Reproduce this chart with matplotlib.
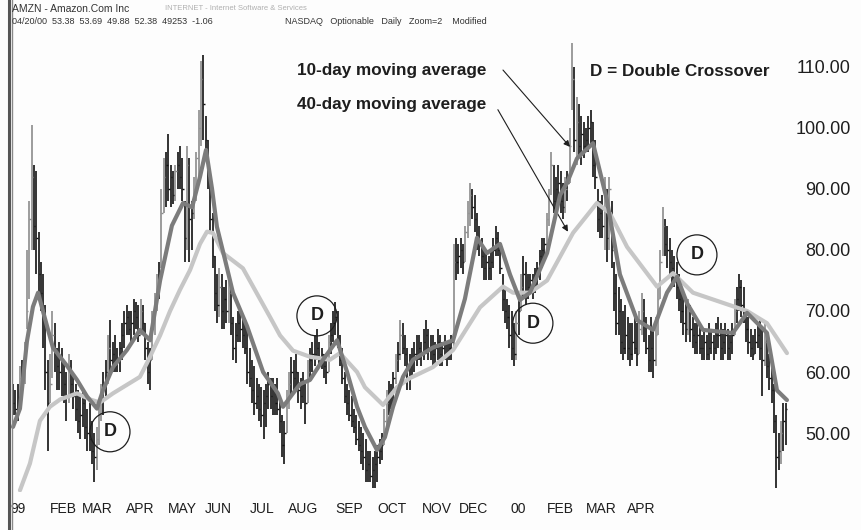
import matplotlib
matplotlib.use("Agg")
import matplotlib.pyplot as plt
from matplotlib import font_manager
from matplotlib.lines import Line2D

# daily bars, 29 Dec 1998 .. 20 Apr 2000 (bar index = trading day)
highs = [
    58, 57, 58, 61, 62, 65, 80, 88, 100.5, 94, 93, 83, 78, 76, 71, 62, 63, 70, 68, 64,
    65, 64, 62, 60, 63, 62, 60, 58, 57, 56, 57, 56, 54, 55, 52, 50, 51, 55, 58, 60,
    62, 66, 68.5, 65, 66, 64, 65, 68, 70, 71, 70, 70, 72, 71.5, 71, 72, 71, 68, 65, 64,
    70, 73, 76, 78, 90, 95, 96, 99, 94, 93, 94, 96, 97, 95, 88, 97, 95, 88, 92, 96,
    103, 111, 112, 102, 98, 92, 86, 79, 76, 77, 76, 74, 75, 76, 74, 69, 68, 70, 70, 69,
    68, 67, 64, 62, 61, 59, 58, 57.5, 57, 58, 60, 59, 59, 58, 59, 56, 53, 52, 57, 60,
    62.5, 62, 63, 60, 59, 60, 58, 62, 64, 65, 66, 67, 65, 64, 63, 63, 66, 68, 70, 71.5,
    70, 66, 64, 60, 58, 57, 56, 54, 53, 52, 51, 50, 49, 47, 47, 46, 47, 48, 49, 50,
    54, 57, 58.5, 58, 60, 63, 65, 68.5, 68, 66, 64, 63, 64, 65, 66, 66, 65, 67, 68.5, 67,
    66, 66, 65, 67, 66, 65, 66, 65, 65, 66, 81, 82, 81, 82, 81, 84, 88, 91, 90, 89,
    86, 84, 82, 80, 80, 79, 80, 82, 84, 83, 81, 76, 74, 72, 71, 70, 68, 70, 72, 76,
    79, 78, 76, 76, 76, 77, 78, 80, 82, 82, 86, 90, 96, 94, 92, 94, 93, 91, 92, 93,
    100, 114, 110, 105, 104, 102, 101, 100, 102, 103, 101, 98, 90, 88, 89, 92, 90, 92, 88, 78,
    76, 74, 72, 70, 71, 69, 68, 68, 70, 68, 70, 73, 72, 69, 66, 69, 67, 69, 74, 80,
    87, 85, 84, 82, 80, 79, 78, 76, 75, 73, 72, 72, 71, 69, 68, 68, 68, 66, 67, 66,
    68, 67, 66, 68, 69, 68, 67, 68, 67, 66, 68, 72, 74, 76, 75, 74, 70, 69, 67, 66,
    67, 68, 69, 67, 68, 66, 63, 61, 58, 53, 50, 52, 55, 55,
]
lows = [
    53, 53, 52, 55, 56, 58, 67, 72, 80, 80, 76, 73, 70, 64, 57, 47, 55, 59, 60, 57,
    57, 56, 55, 52, 55, 56, 54, 52, 50, 49, 51, 49, 47, 47, 45, 42, 44, 48, 52, 53,
    56, 58, 60, 60, 60, 60, 60, 62, 64, 66, 66, 65, 66, 67, 65, 66, 66, 62, 58, 57,
    62, 66, 70, 72, 77, 86, 87, 88, 87, 87.5, 88, 90, 90, 88, 78, 80, 78, 80, 85, 88,
    92, 97, 98, 96, 90, 83, 77, 70, 68, 69, 67, 67, 68, 68, 66, 62, 61.5, 65, 65, 64,
    63, 58, 57.5, 55, 53, 54, 52, 51, 49, 51, 54, 54, 53, 53, 53, 50, 46, 45, 50, 54,
    56, 57, 57, 55, 54, 55, 51.5, 55, 59, 60, 61, 62, 61, 60.5, 59, 58, 60, 63, 65, 66,
    64, 61, 58, 55, 53, 52, 51, 50, 48, 47, 45, 44, 42, 42, 42, 41, 41, 42, 45, 45.5,
    48, 51, 53, 54, 55, 58, 60, 62, 63, 61, 57, 57, 59, 60, 61, 62, 61, 62, 63, 62,
    62, 61, 61, 62, 61, 61, 62, 61, 62, 62, 64, 75, 76, 77, 76, 78, 82, 84, 85, 83,
    80, 79, 77, 75, 75, 75, 75, 77, 79, 79, 76, 70, 68, 67, 64, 62, 61, 62, 66, 70,
    72, 71, 72, 73, 72, 73, 74, 75, 77, 78, 80, 84, 89, 86, 86, 87, 86, 85, 86, 88,
    91, 103, 96, 94, 95, 94, 95, 96, 96, 97, 92, 90, 83, 82, 82, 80, 78, 80, 77, 70,
    66, 66, 63, 62, 63, 62, 61, 62, 63, 61, 63, 66, 65, 63, 60, 60, 59, 61, 66, 72,
    79, 79, 77, 76, 74, 74, 72, 70, 68, 66, 65, 66, 65, 64, 63, 63, 63, 62, 62, 62,
    62, 63, 62, 63, 64, 62, 62, 63, 62, 62, 63, 66, 68, 70, 69, 68, 65, 63, 62.5, 62,
    63, 64, 62, 56, 61, 59, 57, 55, 50, 41, 44, 45, 47, 48,
]
closes = [
    55, 54, 54, 59, 60, 64, 70, 85, 92, 84, 82, 76, 73, 70, 60, 55, 58, 66, 63, 61,
    60, 62, 58, 56, 60, 58, 56, 54, 52, 53, 55, 51, 50, 49, 47, 46, 49, 53, 56, 58,
    60, 64, 62, 63, 61, 62, 64, 66, 68, 69, 67, 68, 70, 69, 66, 70, 68, 64, 60, 62,
    68, 71, 74, 76, 86, 92, 94, 90, 92, 89, 93, 94, 92, 90, 82, 94, 85, 86, 90, 95,
    100, 108, 104, 98, 92, 85, 79, 73, 71, 74, 70, 72, 70, 73, 68, 64, 66, 68, 67, 66,
    64, 60, 59, 57, 55, 56, 54, 53, 55, 56, 58, 56, 57, 55, 54, 52, 48, 50, 55, 58,
    60, 59, 60, 57, 56, 58, 55, 60, 62, 63, 63, 64, 62, 63, 61, 60, 65, 66, 68, 69,
    65, 62, 59, 56, 55, 53, 52, 51, 49, 48, 47, 46, 44, 45, 43, 44, 45, 46, 47, 48,
    52, 55, 56, 57, 59, 62, 63, 66, 64, 63, 59, 61, 62, 63, 63, 64, 63, 65, 66, 64,
    64, 63, 64, 65, 63, 64, 63, 63, 64, 65, 78, 78, 79, 80, 78, 83, 86, 89, 87, 85,
    82, 81, 79, 77, 78, 77, 78, 80, 82, 80, 77, 72, 70, 69, 66, 64, 63, 68, 70, 74,
    76, 73, 74, 75, 74, 76, 77, 79, 80, 81, 85, 88, 94, 88, 90, 91, 88, 87, 90, 91,
    97, 108, 98, 101, 97, 99, 97, 98, 100, 101, 94, 92, 85, 86, 84, 88, 82, 90, 80, 73,
    68, 70, 65, 64, 66, 64, 63, 65, 64, 63, 67, 70, 68, 64, 62, 64, 62, 66, 72, 78,
    84, 81, 80, 78, 77, 76, 74, 72, 70, 68, 67, 70, 67, 66, 65, 66, 64, 64, 65, 63,
    64, 65, 64, 66, 66, 64, 65, 66, 64, 65, 66, 70, 72, 74, 71, 70, 67, 65, 64, 63,
    65, 66, 64, 62, 65, 61, 59, 57, 52, 46, 47, 50, 52, 54,
]

# moving averages (bar index, price)
ma10_idx = [0, 3, 6, 8.6, 10.8, 12.9, 17.2, 23.3, 27.6, 31.9, 36.2, 38.8, 43.1, 49.1,
            54.7, 59.1, 63.4, 68.5, 73.3, 77.2, 80.6, 83.2, 85.8, 87.9, 91.4, 94.8,
            100.9, 107.8, 114.2, 116.4, 120.7, 123.7, 128, 133.6, 139.7, 144, 148.3,
            151.7, 156.9, 160.3, 163.8, 168.1, 172.4, 181, 189.7, 194.8, 200, 204.3,
            209.9, 214.2, 218.5, 222.8, 230.2, 235.8, 238.8, 243.1, 250, 256, 261.6,
            269, 275.9, 281.9, 286.2, 290.5, 297.4, 310.3, 316.4, 325, 329.3, 333.6]
ma10_val = [51, 54, 65, 70.7, 73, 70, 64, 61, 58.7, 56, 54, 57, 60.8, 63.6,
            66.9, 65.2, 75, 84, 87.7, 87, 92, 96.4, 90, 83.8, 78.4, 73,
            67.5, 60, 56.5, 54.3, 56.5, 58, 58.7, 62, 65.2, 60, 54.3,
            51, 47.2, 49.3, 54.3, 59.2, 62, 64, 65.2, 72, 82, 79.5,
            81, 76, 71.8, 73, 79.5, 89, 91, 95, 97.5, 88.2, 76,
            68.5, 66.9, 73, 75.6, 71.3, 66.9, 66.4, 69.7, 66.4, 57, 55.4]
ma40_idx = [3, 7.3, 11.6, 15.9, 20.3, 27.6, 33.2, 37.5, 43.1, 54.7, 57.8, 63.4, 67.7,
            72, 76.3, 80.6, 83.6, 86.2, 90.5, 99.1, 110.8, 115.1, 120.7, 128, 136.6,
            140.9, 148.3, 151.7, 159.5, 165.5, 171.1, 181, 189.7, 201.3, 211.2, 215.5,
            222.8, 230.2, 235.8, 241.4, 251.7, 257.3, 264.7, 277.6, 284.5, 293.1,
            316.4, 325, 333.6]
ma40_val = [40.6, 45, 52, 54.3, 55.5, 56.5, 55.5, 55, 56.5, 59.2, 61.5, 66, 70,
            73.5, 76.7, 81, 83, 82.8, 79.5, 77, 69, 66, 63.5, 62.5, 62,
            63.1, 60, 57.5, 54.6, 57.5, 59, 60.8, 63.6, 70.6, 74, 73,
            73, 75, 78.9, 82.8, 87.7, 86, 80.5, 74, 76.2, 73,
            70, 68, 63.1]

month_pos = [2.2, 21.6, 36.2, 54.7, 72.8, 88.4, 107.3, 125, 144.8, 163.4, 182.8,
             198.3, 217.7, 235.8, 253.4, 270.7]
month_labels = ["99", "FEB", "MAR", "APR", "MAY", "JUN", "JUL", "AUG", "SEP", "OCT",
                "NOV", "DEC", "00", "FEB", "MAR", "APR"]
price_ticks = [50, 60, 70, 80, 90, 100, 110]

# double crossover markers (bar index, price)
cross_idx = [41.8, 131, 224.1, 294.8]
cross_val = [50.2, 69.2, 68, 79.2]


def pick_font():
    names = {f.name for f in font_manager.fontManager.ttflist}
    for name in ["Liberation Sans Narrow", "Liberation Sans", "DejaVu Sans"]:
        if name in names:
            return name
    return "DejaVu Sans"


def plot_chart():
    face = pick_font()
    ink = "#1e1e1e"
    fig = plt.figure(figsize=(8.62, 5.30), dpi=100)
    fig.patch.set_facecolor("#fdfdfd")
    ax = fig.add_axes([10 / 862, 38 / 530, 785 / 862, 464 / 530])
    ax.set_facecolor("#fdfdfd")

    n = len(closes)
    idx = list(range(n))
    colors = ["#111111"]
    for i in range(1, n):
        colors.append("#8c8c8c" if closes[i] > closes[i - 1] + 2 else "#111111")

    ax.vlines(idx, lows, highs, colors=colors, linewidth=1.2)
    ax.hlines(closes, idx, [i + 0.6 for i in idx], colors=colors, linewidth=1.0)

    ax.plot(ma40_idx, ma40_val, color="#c6c6c6", linewidth=3.0, solid_capstyle="round",
            solid_joinstyle="round", zorder=3)
    ax.plot(ma10_idx, ma10_val, color="#7c7c7c", linewidth=3.0, solid_capstyle="round",
            solid_joinstyle="round", zorder=4)

    ax.scatter(cross_idx, cross_val, s=830, facecolors="none", edgecolors=ink,
               linewidths=0.9, zorder=5)
    for x, y in zip(cross_idx, cross_val):
        ax.text(x, y, "D", ha="center", va="center", fontsize=13, fontweight="bold",
                family=face, color=ink, zorder=6)

    ax.text(122.4, 109.5, "10-day moving average", ha="left", va="center", fontsize=12.3,
            fontweight="bold", family=face, color=ink)
    ax.text(122.4, 103.8, "40-day moving average", ha="left", va="center", fontsize=12.3,
            fontweight="bold", family=face, color=ink)
    ax.text(248.7, 109.3, "D = Double Crossover", ha="left", va="center", fontsize=12.3,
            fontweight="bold", family=face, color=ink)

    arrow = dict(arrowstyle="-|>", color=ink, linewidth=0.8, mutation_scale=9,
                 shrinkA=0, shrinkB=0)
    ax.annotate("", xy=(240.1, 96.9), xytext=(211.2, 109.5), arrowprops=arrow)
    ax.annotate("", xy=(239.2, 83.0), xytext=(209.0, 103.0), arrowprops=arrow)

    ax.set_xlim(-1.29, 337.07)
    ax.set_ylim(40.33, 116.39)
    ax.set_xticks(month_pos)
    ax.set_xticklabels(month_labels, family=face, fontsize=10, color=ink)
    ax.yaxis.tick_right()
    ax.set_yticks(price_ticks)
    ax.set_yticklabels(["%.2f" % v for v in price_ticks], family=face, fontsize=13,
                       color=ink)
    for lbl in ax.get_yticklabels():
        lbl.set_horizontalalignment("right")
    ax.tick_params(axis="x", length=0, pad=7)
    ax.tick_params(axis="y", length=0, pad=40)
    for side in ["top", "right", "bottom", "left"]:
        ax.spines[side].set_visible(False)

    # left border of the chart window
    fig.add_artist(Line2D([9 / 862, 9 / 862], [0, 1], color="#555555", linewidth=2.2))
    fig.add_artist(Line2D([12 / 862, 12 / 862], [0, 1], color="#888888", linewidth=1.0))

    fig.text(12 / 862, 1 - 9 / 530, "AMZN - Amazon.Com Inc", fontsize=7.5,
             color="#333333", va="center", family=face)
    fig.text(165 / 862, 1 - 9 / 530, "INTERNET - Internet Software & Services",
             fontsize=5.5, color="#b0b0b0", va="center", family=face)
    fig.text(12 / 862, 1 - 21 / 530, "04/20/00  53.38  53.69  49.88  52.38  49253  -1.06",
             fontsize=6.5, color="#333333", va="center", family=face)
    fig.text(285 / 862, 1 - 21 / 530, "NASDAQ   Optionable   Daily   Zoom=2    Modified",
             fontsize=6.5, color="#333333", va="center", family=face)

    fig.savefig("out.png", dpi=100, facecolor=fig.get_facecolor())


def main():
    plot_chart()


if __name__ == "__main__":
    main()
